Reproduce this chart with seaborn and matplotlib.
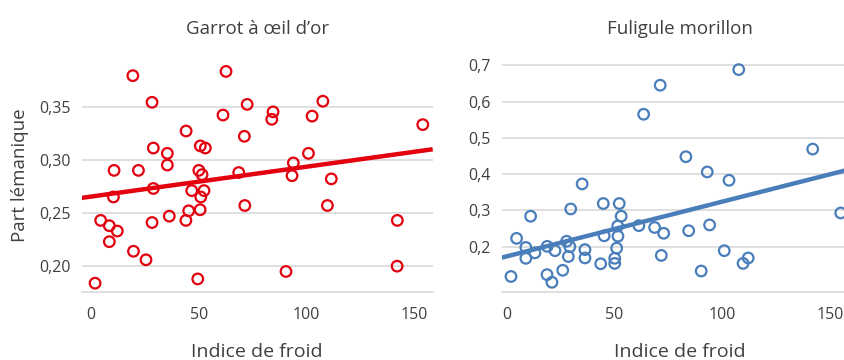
import numpy as np
import pandas as pd
import matplotlib
matplotlib.use("Agg")
import matplotlib.pyplot as plt
import seaborn as sns
from matplotlib.ticker import FuncFormatter

# ---- data: Garrot à œil d'or ----
garrot_froid = [2.0, 19.5, 4.6, 8.6, 12.3, 8.6, 10.5, 10.8, 22.1, 19.8,
                25.6, 28.4, 29.0, 29.0, 28.4, 35.5, 35.5, 36.4, 44.2, 44.1,
                45.4, 46.8, 50.1, 50.8, 53.1, 51.6, 52.5, 51.0, 50.7, 49.6,
                61.3, 62.7, 68.6, 72.5, 71.2, 71.4, 84.5, 83.9, 90.5, 93.9,
                93.3, 100.9, 102.6, 107.6, 111.5, 109.7, 142.1, 142.0, 153.9]
garrot_part = [0.184, 0.379, 0.243, 0.238, 0.233, 0.223, 0.265, 0.290, 0.290, 0.214,
               0.206, 0.354, 0.311, 0.273, 0.241, 0.306, 0.295, 0.247, 0.327, 0.243,
               0.252, 0.271, 0.290, 0.313, 0.311, 0.286, 0.271, 0.265, 0.253, 0.188,
               0.342, 0.383, 0.288, 0.352, 0.322, 0.257, 0.345, 0.338, 0.195, 0.297,
               0.285, 0.306, 0.341, 0.355, 0.282, 0.257, 0.243, 0.200, 0.333]

# ---- data: Fuligule morillon ----
fuligule_froid = [2.0, 4.6, 8.9, 8.9, 11.1, 13.1, 18.8, 18.7, 21.0, 22.4,
                  26.0, 27.8, 29.7, 29.3, 28.6, 35.0, 36.3, 36.3, 43.6, 44.8,
                  45.2, 50.1, 50.1, 51.0, 51.6, 51.5, 52.2, 53.1, 61.3, 63.5,
                  68.6, 71.2, 72.8, 71.7, 83.1, 84.4, 90.2, 93.0, 94.1, 100.9,
                  103.1, 107.6, 109.6, 112.0, 141.9, 154.9]
fuligule_part = [0.118, 0.223, 0.198, 0.168, 0.284, 0.183, 0.201, 0.123, 0.102, 0.189,
                 0.135, 0.215, 0.304, 0.200, 0.173, 0.373, 0.192, 0.169, 0.153, 0.319,
                 0.230, 0.154, 0.168, 0.196, 0.229, 0.257, 0.319, 0.284, 0.258, 0.565,
                 0.253, 0.645, 0.237, 0.176, 0.448, 0.244, 0.133, 0.406, 0.260, 0.189,
                 0.383, 0.688, 0.154, 0.169, 0.469, 0.293]

titles = ["Garrot à œil d’or", "Fuligule morillon"]
xlabel = "Indice de froid"
ylabel = "Part lémanique"
garrot_yticks = [0.20, 0.25, 0.30, 0.35]
fuligule_yticks = [0.2, 0.3, 0.4, 0.5, 0.6, 0.7]
xticks = [0, 50, 100, 150]

RED = "#E3000F"
BLUE = "#4A7EBB"
TEXT = "#404040"
GRID = "#D9D9D9"

sns.set_theme(style="white")
plt.rcParams["font.family"] = ["Open Sans", "DejaVu Sans"]
plt.rcParams["text.color"] = TEXT
plt.rcParams["axes.labelcolor"] = TEXT
plt.rcParams["xtick.color"] = TEXT
plt.rcParams["ytick.color"] = TEXT

W, H = 844, 360
fig = plt.figure(figsize=(W / 100, H / 100), dpi=100)

def frac(x0, y0, x1, y1):
    return [x0 / W, 1 - y1 / H, (x1 - x0) / W, (y1 - y0) / H]

ax1 = fig.add_axes(frac(81.7, 58, 432.7, 291.7))
ax2 = fig.add_axes(frac(501.7, 58, 858, 291.7))

df1 = pd.DataFrame({"froid": garrot_froid, "part": garrot_part})
df2 = pd.DataFrame({"froid": fuligule_froid, "part": fuligule_part})

panels = [
    (ax1, df1, RED, (-4.2, 158.5), (0.176, 0.3956), garrot_yticks, 2),
    (ax2, df2, BLUE, (-2.3, 162.9), (0.076, 0.720), fuligule_yticks, 1),
]

for i, (ax, df, col, xl, yl, yt, dec) in enumerate(panels):
    ax.set_xlim(*xl)
    ax.set_ylim(*yl)
    ax.set_yticks(yt)
    ax.set_xticks(xticks)
    ax.yaxis.grid(True, color=GRID, linewidth=1.2)
    ax.set_axisbelow(True)
    sns.regplot(data=df, x="froid", y="part", ax=ax, ci=None, truncate=False,
                color=col,
                scatter_kws=dict(s=58, facecolors="none", edgecolors=col,
                                 linewidths=1.6, alpha=1, zorder=3),
                line_kws=dict(linewidth=3.2, zorder=2, solid_capstyle="butt"))
    ax.set_xlim(*xl)
    ax.set_ylim(*yl)
    for s in ["left", "right", "top"]:
        ax.spines[s].set_visible(False)
    ax.spines["bottom"].set_color(GRID)
    ax.spines["bottom"].set_linewidth(1.2)
    ax.tick_params(axis="both", length=0, labelsize=11.5, pad=8)
    ax.tick_params(axis="x", pad=11)
    ax.yaxis.set_major_formatter(FuncFormatter(
        lambda v, p, d=dec: f"{v:.{d}f}".replace(".", ",")))
    ax.set_title(titles[i], fontsize=13.5, color=TEXT, pad=17)
    ax.set_xlabel(xlabel, fontsize=14, labelpad=14.5)
    ax.set_ylabel(ylabel if i == 0 else "", fontsize=13.5, labelpad=7)

fig.savefig("out.png", dpi=100)
